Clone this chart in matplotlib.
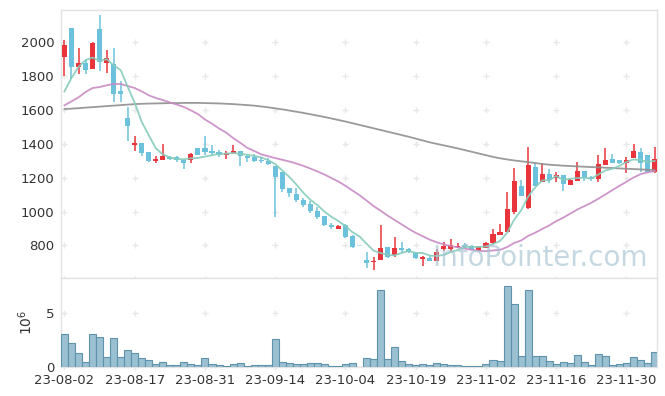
import numpy as np
import matplotlib.pyplot as plt

# Daily OHLC (trading days 23-08-02 .. 23-12-06)
opens = [1915, 2084, 1856, 1876, 1844, 2079, 1879, 1872, 1712, 1553,
         1393, 1405, 1352, 1300, 1305, 1322, 1320, 1305, 1306, 1375,
         1375, 1358, 1352, 1332, 1344, 1358, 1330, 1324, 1305, 1300,
         1269, 1236, 1141, 1104, 1068, 1043, 1003, 974, 918, 899,
         920, 856, 801, 714, 700, 714, 789, 743, 783, 779,
         757, 718, 727, 710, 777, 779, 791, 802, 796, 769,
         787, 812, 861, 881, 999, 1151, 1019, 1265, 1176, 1222,
         1196, 1216, 1157, 1182, 1240, 1206, 1192, 1275, 1311, 1305,
         1289, 1318, 1354, 1334, 1236]
highs = [2015, 2084, 1966, 1894, 2000, 2163, 1956, 1966, 1773, 1616,
         1446, 1405, 1352, 1326, 1399, 1326, 1328, 1305, 1348, 1378,
         1446, 1393, 1364, 1358, 1393, 1360, 1334, 1338, 1324, 1315,
         1270, 1236, 1141, 1137, 1078, 1062, 1029, 974, 934, 918,
         925, 862, 801, 763, 733, 920, 793, 852, 822, 783,
         763, 737, 737, 779, 818, 838, 812, 812, 800, 796,
         820, 897, 924, 1117, 1259, 1187, 1380, 1285, 1289, 1250,
         1236, 1216, 1190, 1295, 1240, 1210, 1334, 1374, 1340, 1305,
         1324, 1397, 1374, 1334, 1380]
lows = [1800, 1783, 1815, 1815, 1840, 1829, 1819, 1647, 1647, 1419,
        1356, 1330, 1295, 1285, 1305, 1305, 1295, 1250, 1289, 1333,
        1336, 1336, 1321, 1309, 1338, 1269, 1295, 1293, 1285, 1275,
        966, 1117, 1088, 1055, 1029, 990, 954, 915, 897, 897,
        845, 783, 796, 665, 655, 714, 724, 733, 753, 753,
        718, 678, 705, 710, 769, 763, 783, 785, 770, 769,
        785, 808, 861, 877, 984, 1090, 1015, 1151, 1176, 1171,
        1176, 1121, 1157, 1180, 1178, 1178, 1176, 1275, 1285, 1280,
        1230, 1316, 1236, 1236, 1226]
closes = [1982, 1856, 1878, 1838, 1998, 1882, 1907, 1695, 1696, 1507,
          1407, 1346, 1300, 1311, 1328, 1312, 1306, 1289, 1340, 1336,
          1352, 1346, 1332, 1344, 1358, 1326, 1318, 1300, 1297, 1281,
          1206, 1131, 1111, 1070, 1037, 1003, 970, 922, 911, 915,
          851, 792, 796, 698, 708, 783, 733, 783, 773, 763,
          724, 730, 710, 759, 798, 802, 798, 791, 773, 793,
          816, 867, 879, 1015, 1180, 1092, 1275, 1151, 1222, 1186,
          1216, 1161, 1186, 1240, 1196, 1192, 1281, 1305, 1289, 1285,
          1305, 1358, 1285, 1236, 1309]

# Volume in millions of shares
volume = [3.04, 2.2, 1.27, 0.43, 3.04, 2.76, 0.9, 2.67, 0.9, 1.55,
          1.27, 0.81, 0.62, 0.25, 0.43, 0.16, 0.16, 0.43, 0.25, 0.16,
          0.81, 0.25, 0.16, 0.06, 0.25, 0.34, 0.06, 0.16, 0.16, 0.16,
          2.58, 0.43, 0.34, 0.25, 0.25, 0.34, 0.34, 0.25, 0.14, 0.08,
          0.25, 0.34, 0.0, 0.8, 0.71, 7.14, 0.71, 1.83, 0.53, 0.25,
          0.16, 0.25, 0.16, 0.34, 0.25, 0.16, 0.16, 0.06, 0.06, 0.06,
          0.25, 0.62, 0.53, 7.5, 5.87, 1.0, 7.14, 1.0, 1.0, 0.53,
          0.25, 0.43, 0.34, 1.09, 0.43, 0.16, 1.18, 1.0, 0.16, 0.25,
          0.34, 0.9, 0.62, 0.34, 1.37]

# Moving averages as shown on the chart
ma5 = [1710, 1790, 1855, 1895, 1910, 1890, 1901, 1864, 1836, 1737,
       1642, 1530, 1451, 1374, 1338, 1319, 1311, 1309, 1315, 1317,
       1325, 1333, 1341, 1342, 1346, 1341, 1336, 1329, 1320, 1304,
       1280, 1243, 1205, 1160, 1111, 1070, 1038, 1000, 969, 944,
       914, 878, 853, 810, 769, 755, 744, 741, 756, 767,
       755, 755, 740, 737, 744, 760, 773, 790, 792, 791,
       794, 808, 826, 874, 951, 1007, 1088, 1143, 1184, 1185,
       1210, 1187, 1194, 1198, 1200, 1195, 1219, 1243, 1253, 1270,
       1293, 1308, 1304, 1294, 1299]
ma20 = [1628, 1651, 1675, 1706, 1730, 1736, 1746, 1754, 1754, 1742,
        1730, 1710, 1687, 1671, 1659, 1645, 1632, 1618, 1598, 1576,
        1544, 1519, 1491, 1467, 1435, 1407, 1377, 1358, 1338, 1327,
        1316, 1306, 1296, 1284, 1270, 1254, 1237, 1219, 1198, 1177,
        1152, 1124, 1097, 1065, 1032, 1005, 976, 950, 924, 898,
        874, 854, 834, 818, 806, 796, 788, 781, 774, 768,
        766, 770, 774, 790, 814, 829, 856, 875, 897, 918,
        943, 964, 988, 1012, 1032, 1052, 1076, 1101, 1127, 1152,
        1176, 1201, 1221, 1232, 1239]
ma120 = [1606, 1608, 1611, 1614, 1617, 1620, 1623, 1626, 1629, 1632,
         1635, 1637, 1638, 1639, 1640, 1641, 1641, 1642, 1642, 1642,
         1641, 1640, 1639, 1637, 1635, 1632, 1629, 1626, 1621, 1616,
         1610, 1604, 1597, 1590, 1583, 1575, 1567, 1559, 1550, 1541,
         1532, 1522, 1512, 1502, 1492, 1482, 1472, 1462, 1452, 1442,
         1431, 1420, 1409, 1400, 1391, 1382, 1373, 1363, 1353, 1343,
         1333, 1323, 1315, 1308, 1302, 1297, 1292, 1287, 1281, 1277,
         1274, 1271, 1269, 1267, 1265, 1263, 1261, 1259, 1257, 1255,
         1253, 1251, 1249, 1247, 1245]

tick_labels = ["23-08-02", "23-08-17", "23-08-31", "23-09-14", "23-10-04",
               "23-10-19", "23-11-02", "23-11-16", "23-11-30"]
price_ticks = [800, 1000, 1200, 1400, 1600, 1800, 2000]
vol_ticks = [0, 5]

up_color = "#e9343b"
down_color = "#6cc2dc"
grid_color = "#e8e8e8"
text_color = "#333333"

x = np.arange(len(closes))
o = np.array(opens)
c = np.array(closes)
vol = np.array(volume)
xticks = np.arange(0, len(closes), 10)[:len(tick_labels)]

fig = plt.figure(figsize=(6.65, 3.96), dpi=100)
ax = fig.add_axes([0.0922, 0.2987, 0.8953, 0.676])
axv = fig.add_axes([0.0922, 0.0732, 0.8953, 0.2255], sharex=ax)

# Candles
colors = np.where(c >= o, up_color, down_color).astype(object)
alphas = np.where(vol == 0, 0.35, 1.0)
for i in x:
    ax.vlines(i, lows[i], highs[i], color=colors[i], alpha=alphas[i], lw=1.1, zorder=3)
    body = max(abs(c[i] - o[i]), 4)
    ax.bar(i, body, bottom=min(c[i], o[i]), width=0.72, color=colors[i],
           alpha=alphas[i], lw=0, zorder=3)

# Moving averages
ax.plot(x, ma120, color="#8f8f8f", lw=1.3, alpha=0.9, zorder=4)
ax.plot(x, ma20, color="#c88ac4", lw=1.3, alpha=0.9, zorder=4)
ax.plot(x, ma5, color="#86cbbb", lw=1.3, alpha=0.9, zorder=4)

# Volume
axv.bar(x, vol, width=1.0, color="#9ac0d2", edgecolor="#5f93ab", lw=0.8, zorder=3)

# "+" grid marks at tick intersections
for a, yt in [(ax, price_ticks + [600]), (axv, vol_ticks)]:
    gx, gy = np.meshgrid(xticks, yt)
    a.plot(gx.ravel(), gy.ravel(), ls="none", marker="+", ms=5, mew=1,
           color=grid_color, zorder=1, clip_on=False)

ax.set_xlim(-0.45, 84.3)
ax.set_ylim(609, 2191)
ax.set_yticks(price_ticks)
axv.set_ylim(0, 8.3)
axv.set_yticks(vol_ticks)
axv.set_ylabel("$10^6$", fontsize=10, color=text_color, labelpad=8)
axv.set_xticks(xticks)
axv.set_xticklabels(tick_labels)
ax.tick_params(axis="x", labelbottom=False)

for a in (ax, axv):
    a.tick_params(length=0, labelsize=9.5, labelcolor=text_color, pad=5)
    for s in a.spines.values():
        s.set_color("#e3e3e3")
        s.set_linewidth(1)

# Watermark
ax.text(0.985, 0.045, "InfoPointer.com", transform=ax.transAxes, ha="right",
        va="baseline", fontsize=20, color="#a6c3d3", alpha=0.65, zorder=5)

fig.savefig("out.png", dpi=100)
